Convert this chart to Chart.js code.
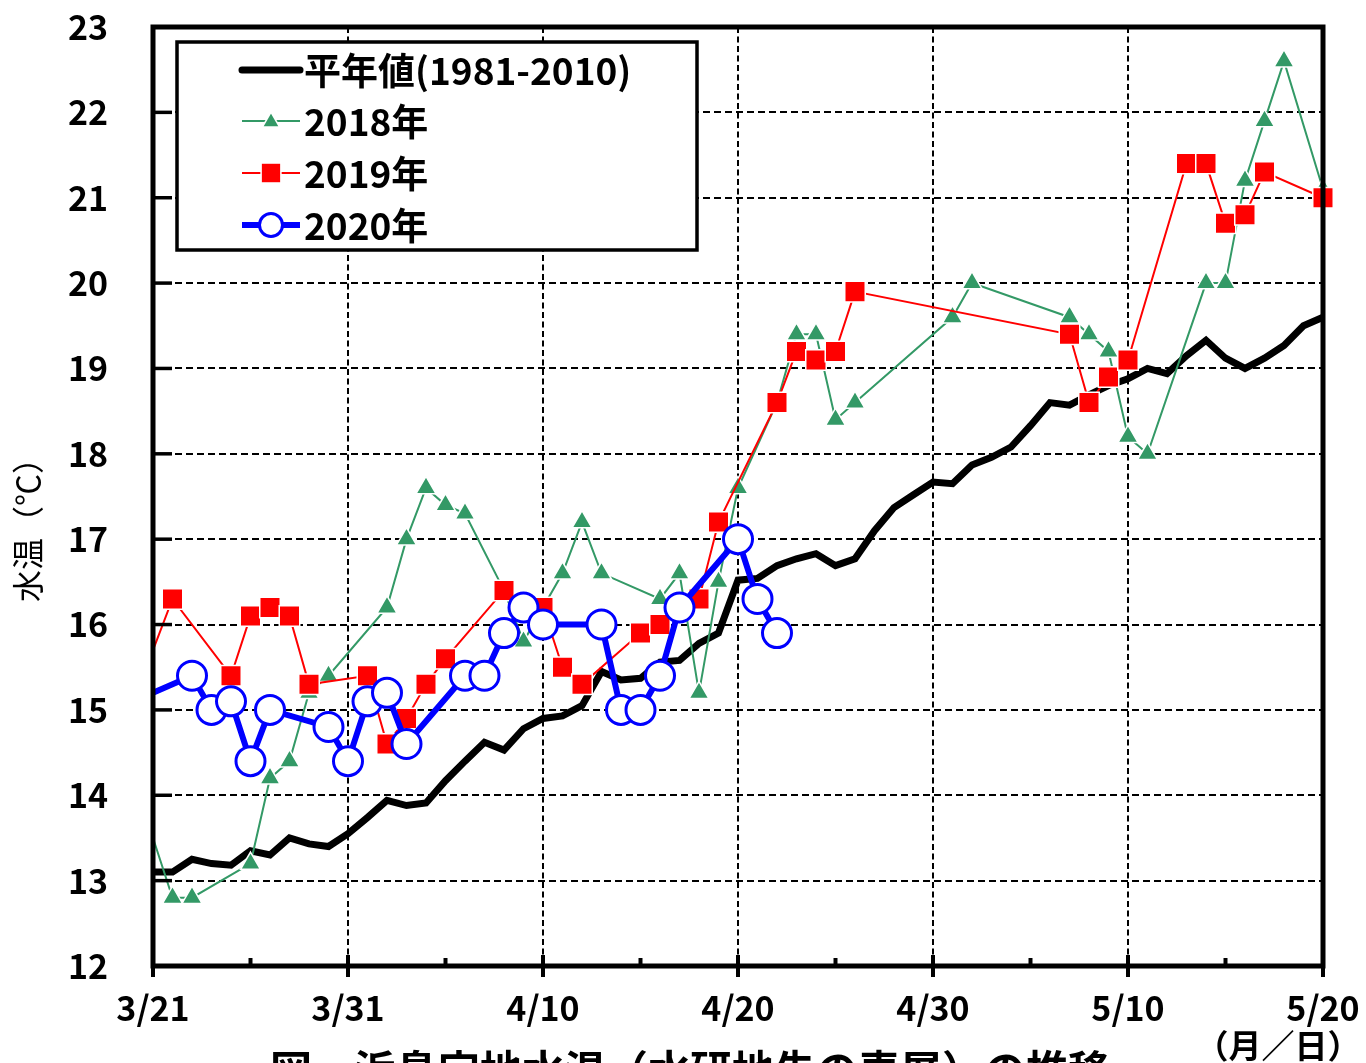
<!DOCTYPE html>
<html><head><meta charset="utf-8">
<script src="https://cdn.jsdelivr.net/npm/chart.js@4/dist/chart.umd.min.js"></script>
<style>html,body{margin:0;padding:0;background:#fff;}canvas{display:block;}</style>
</head><body>
<canvas id="c" width="1366" height="1063"></canvas>
<script>
const dates = ['3/21','3/22','3/23','3/24','3/25','3/26','3/27','3/28','3/29','3/30','3/31',
  '4/1','4/2','4/3','4/4','4/5','4/6','4/7','4/8','4/9','4/10','4/11','4/12','4/13','4/14','4/15',
  '4/16','4/17','4/18','4/19','4/20','4/21','4/22','4/23','4/24','4/25','4/26','4/27','4/28','4/29','4/30',
  '5/1','5/2','5/3','5/4','5/5','5/6','5/7','5/8','5/9','5/10','5/11','5/12','5/13','5/14','5/15',
  '5/16','5/17','5/18','5/19','5/20'];
const normal = [13.1,13.1,13.25,13.2,13.18,13.35,13.3,13.5,13.43,13.4,13.55,
  13.74,13.94,13.88,13.91,14.17,14.4,14.62,14.53,14.78,14.9,14.93,15.05,15.45,15.35,15.37,
  15.56,15.58,15.78,15.9,16.52,16.54,16.69,16.77,16.83,16.69,16.77,17.1,17.37,17.52,17.67,
  17.65,17.87,17.96,18.08,18.33,18.6,18.57,18.69,18.8,18.88,19.0,18.94,19.15,19.33,19.12,
  19.0,19.12,19.27,19.5,19.6];
const y2018 = [13.5,12.8,12.8,null,null,13.2,14.2,14.4,15.2,15.4,null,
  null,16.2,17.0,17.6,17.4,17.3,null,16.4,15.8,null,16.6,17.2,16.6,null,null,
  16.3,16.6,15.2,16.5,17.6,null,18.6,19.4,19.4,18.4,18.6,null,null,null,null,
  19.6,20.0,null,null,null,null,19.6,19.4,19.2,18.2,18.0,null,null,20.0,20.0,
  21.2,21.9,22.6,null,21.1];
const y2019 = [15.7,16.3,null,null,15.4,16.1,16.2,16.1,15.3,null,null,
  15.4,14.6,14.9,15.3,15.6,null,null,16.4,null,16.2,15.5,15.3,null,null,15.9,
  16.0,null,16.3,17.2,null,null,18.6,19.2,19.1,19.2,19.9,null,null,null,null,
  null,null,null,null,null,null,19.4,18.6,18.9,19.1,null,null,21.4,21.4,20.7,
  20.8,21.3,null,null,21.0];
const y2020 = [15.2,null,15.4,15.0,15.1,14.4,15.0,null,null,14.8,14.4,
  15.1,15.2,14.6,null,null,15.4,15.4,15.9,16.2,16.0,null,null,16.0,15.0,15.0,
  15.4,16.2,null,null,17.0,16.3,15.9,null,null,null,null,null,null,null,null,
  null,null,null,null,null,null,null,null,null,null,null,null,null,null,null,
  null,null,null,null,null];
const yTicks = [12,13,14,15,16,17,18,19,20,21,22,23];
const seriesNames = ['平年値(1981-2010)','2018年','2019年','2020年'];
const yTitle = '水温（℃）';
const xUnit = '（月／日）';
const caption = '図　浜島定地水温（水研地先の表層）の推移';

const FONT = "'Noto Sans CJK JP', 'Noto Sans', sans-serif";
const GREEN = '#339966', RED = '#ff0000', BLUE = '#0000ff';

function hideFirst(r){ return ctx => ctx.dataIndex === 0 ? 0 : r; }

function drawMarker(ctx, type, x, y, r, fill, stroke, lw){
  ctx.beginPath();
  if(type==='triangle'){
    ctx.moveTo(x, y - r);
    ctx.lineTo(x + Math.sin(2*Math.PI/3)*r, y + r/2);
    ctx.lineTo(x - Math.sin(2*Math.PI/3)*r, y + r/2);
    ctx.closePath();
  } else if(type==='rect'){
    const s = r*Math.SQRT1_2;
    ctx.rect(x - s, y - s, 2*s, 2*s);
  } else {
    ctx.arc(x, y, r, 0, Math.PI*2);
  }
  ctx.fillStyle = fill; ctx.fill();
  if(lw){ ctx.lineWidth = lw; ctx.strokeStyle = stroke; ctx.stroke(); }
}

const decor = {
  id:'decor',
  afterDraw(chart){
    const {ctx, chartArea:a, scales:{x, y}} = chart;
    ctx.save();
    ctx.setLineDash([]);
    ctx.strokeStyle = '#000';
    ctx.lineWidth = 5;
    ctx.strokeRect(a.left, a.top, a.right - a.left, a.bottom - a.top);
    ctx.lineWidth = 3.5;
    yTicks.forEach(v => {
      const py = y.getPixelForValue(v);
      ctx.beginPath(); ctx.moveTo(a.left, py); ctx.lineTo(a.left + 19, py); ctx.stroke();
    });
    ctx.lineWidth = 4;
    dates.forEach((d, i) => {
      if(i % 5) return;
      const px = x.getPixelForValue(i);
      ctx.beginPath();
      if(i % 10 === 0){ ctx.moveTo(px, a.bottom - 11); ctx.lineTo(px, a.bottom + 11); }
      else { ctx.moveTo(px, a.bottom - 8); ctx.lineTo(px, a.bottom); }
      ctx.stroke();
    });
    // legend
    const L = {x:177, y:42, w:520, h:208};
    ctx.fillStyle = '#fff';
    ctx.fillRect(L.x, L.y, L.w, L.h);
    ctx.lineWidth = 3.5;
    ctx.strokeRect(L.x, L.y, L.w, L.h);
    const rows = [70, 121, 173, 225];
    const x0 = 242, x1 = 300, xm = 271;
    ctx.lineCap = 'round';
    ctx.lineWidth = 7; ctx.strokeStyle = '#000';
    ctx.beginPath(); ctx.moveTo(x0, rows[0]); ctx.lineTo(x1, rows[0]); ctx.stroke();
    ctx.lineCap = 'butt';
    ctx.lineWidth = 2; ctx.strokeStyle = GREEN;
    ctx.beginPath(); ctx.moveTo(x0, rows[1]); ctx.lineTo(x1, rows[1]); ctx.stroke();
    drawMarker(ctx, 'triangle', xm, rows[1] + 1, 10, GREEN, '#fff', 1.5);
    ctx.lineWidth = 2; ctx.strokeStyle = RED;
    ctx.beginPath(); ctx.moveTo(x0, rows[2]); ctx.lineTo(x1, rows[2]); ctx.stroke();
    drawMarker(ctx, 'rect', xm, rows[2], 14, RED, '#fff', 1.5);
    ctx.lineWidth = 6; ctx.strokeStyle = BLUE;
    ctx.beginPath(); ctx.moveTo(x0, rows[3]); ctx.lineTo(x1, rows[3]); ctx.stroke();
    drawMarker(ctx, 'circle', xm, rows[3], 11.5, '#fff', BLUE, 3);
    ctx.fillStyle = '#000';
    ctx.font = 'bold 37px ' + FONT;
    ctx.textAlign = 'left'; ctx.textBaseline = 'middle';
    seriesNames.forEach((n, i) => ctx.fillText(n, 304, rows[i] + 1));
    // y title
    ctx.save();
    ctx.translate(28, 522);
    ctx.rotate(-Math.PI/2);
    ctx.font = '32px ' + FONT;
    ctx.textAlign = 'center'; ctx.textBaseline = 'middle';
    ctx.fillText(yTitle, 0, 0);
    ctx.restore();
    // unit
    ctx.font = 'bold 33px ' + FONT;
    ctx.textAlign = 'center'; ctx.textBaseline = 'middle';
    ctx.fillText(xUnit, 1278, 1045);
    // caption (cut off by canvas bottom)
    ctx.font = 'bold 42px ' + FONT;
    ctx.fillText(caption, 690, 1070);
    ctx.restore();
  }
};

const common = { spanGaps: true, tension: 0 };

new Chart(document.getElementById('c'), {
  type: 'line',
  data: {
    labels: dates,
    datasets: [
      Object.assign({ label: seriesNames[3], data: y2020, borderColor: BLUE, borderWidth: 6,
        pointStyle: 'circle', pointRadius: hideFirst(14.5), pointBackgroundColor: '#fff',
        pointBorderColor: BLUE, pointBorderWidth: 3, order: 0 }, common),
      Object.assign({ label: seriesNames[2], data: y2019, borderColor: RED, borderWidth: 2,
        pointStyle: 'rect', pointRadius: hideFirst(14.5), pointBackgroundColor: RED,
        pointBorderColor: '#fff', pointBorderWidth: 1.5, order: 1 }, common),
      Object.assign({ label: seriesNames[1], data: y2018, borderColor: GREEN, borderWidth: 2,
        pointStyle: 'triangle', pointRadius: hideFirst(11.5), pointBackgroundColor: GREEN,
        pointBorderColor: '#fff', pointBorderWidth: 1.5, order: 2 }, common),
      Object.assign({ label: seriesNames[0], data: normal, borderColor: '#000', borderWidth: 7,
        pointRadius: 0, borderJoinStyle: 'miter', order: 3 }, common)
    ]
  },
  options: {
    responsive: false,
    animation: false,
    events: [],
    layout: { padding: { left: 0, right: 43, top: 27, bottom: 0 } },
    plugins: { legend: { display: false }, tooltip: { enabled: false } },
    scales: {
      x: {
        type: 'category',
        offset: false,
        afterFit: s => { s.height = 97; s.paddingLeft = 0; s.paddingRight = 0; },
        grid: { color: c => (c.index % 10 === 0 ? '#000' : 'rgba(0,0,0,0)'), lineWidth: 2, drawTicks: false },
        border: { display: false, dash: [6, 3.5] },
        ticks: {
          autoSkip: false, maxRotation: 0, minRotation: 0, padding: 22,
          color: '#000', font: { family: FONT, size: 34, weight: 'bold' },
          callback: (v, i) => (i % 10 === 0 ? dates[i] : '')
        }
      },
      y: {
        min: 12, max: 23,
        afterFit: s => { s.width = 153; s.paddingTop = 0; s.paddingBottom = 0; },
        grid: { color: '#000', lineWidth: 2, drawTicks: false },
        border: { display: false, dash: [7, 4] },
        ticks: {
          stepSize: 1, padding: 45, color: '#000',
          font: { family: FONT, size: 34, weight: 'bold' },
          callback: v => String(v)
        }
      }
    }
  },
  plugins: [decor]
});
</script>
</body></html>
